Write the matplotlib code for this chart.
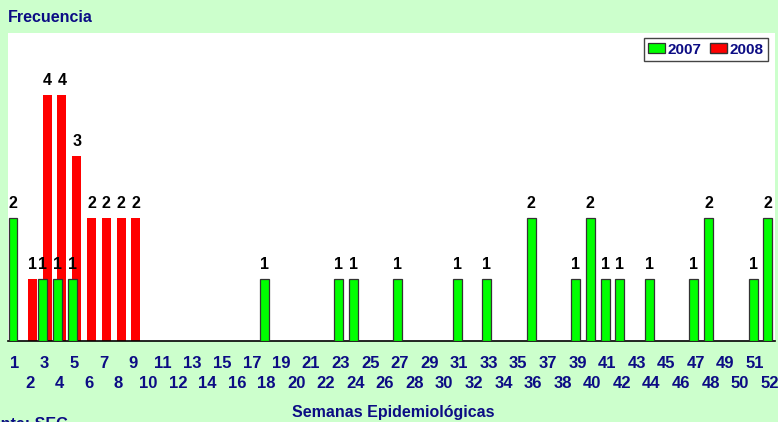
import matplotlib.pyplot as plt
import numpy as np

plt.rcParams['font.family'] = ['Liberation Sans', 'DejaVu Sans']

weeks = list(range(1, 53))
casos_2007 = {1: 2, 3: 1, 4: 1, 5: 1, 18: 1, 23: 1, 24: 1, 27: 1, 31: 1, 33: 1,
              36: 2, 39: 1, 40: 2, 41: 1, 42: 1, 44: 1, 47: 1, 48: 2, 51: 1, 52: 2}
casos_2008 = {2: 1, 3: 4, 4: 4, 5: 3, 6: 2, 7: 2, 8: 2, 9: 2}
odd_weeks = [w for w in weeks if w % 2]
even_weeks = [w for w in weeks if w % 2 == 0]

navy = '#0c0c84'
green = '#00ff00'
red = '#ff0000'

fig = plt.figure(figsize=(7.78, 4.22), dpi=100, facecolor='#ccffcc')
ax = fig.add_axes([8 / 778, 1 - 341 / 422, 767 / 778, 308 / 422])
ax.set_facecolor('white')

w = 0.6
x07 = np.array(list(casos_2007.keys())) - 0.13
y07 = np.array(list(casos_2007.values()))
x08 = np.array(list(casos_2008.keys())) + 0.17
y08 = np.array(list(casos_2008.values()))

b08 = ax.bar(x08, y08, width=w, color=red, edgecolor='none', zorder=2, label='2008')
b07 = ax.bar(x07, y07, width=w, color=green, edgecolor='#333333', linewidth=0.9,
             zorder=3, label='2007')

lab_font = dict(fontsize=11.5, fontweight='bold', color='black')
ax.bar_label(b08, padding=5, **lab_font)
ax.bar_label(b07, padding=5, **lab_font)

ax.set_xlim(0.53, 52.35)
ax.set_ylim(0, 5)
ax.set_yticks([])
# odd weeks on the first row, even weeks on the second row
ax.set_xticks(odd_weeks)
ax.set_xticklabels([str(v) for v in odd_weeks], fontsize=12, fontweight='bold',
                   color=navy)
ax.set_xticks(even_weeks, minor=True)
ax.set_xticklabels([str(v) for v in even_weeks], minor=True, fontsize=12,
                   fontweight='bold', color=navy)
ax.tick_params(axis='x', which='major', length=0, pad=11)
ax.tick_params(axis='x', which='minor', length=0, pad=25)
for s in ['top', 'left', 'right']:
    ax.spines[s].set_visible(False)
ax.spines['bottom'].set_color('black')
ax.spines['bottom'].set_linewidth(1.2)

leg = fig.legend(handles=[b07, b08], labels=['2007', '2008'],
                 loc='upper right', bbox_to_anchor=(768 / 778, 1 - 38 / 422),
                 borderaxespad=0, frameon=True, fancybox=False,
                 edgecolor='#444444', framealpha=1, handlelength=1.1,
                 handleheight=0.6, handletextpad=0.15, columnspacing=0.6,
                 borderpad=0.3, ncol=2, prop=dict(weight='bold', size=11))
for t in leg.get_texts():
    t.set_color(navy)
leg.legend_handles[0].set_edgecolor('#333333')
leg.legend_handles[1].set_edgecolor('#333333')

fig.text(8 / 778, 1 - 17 / 422, 'Frecuencia', fontsize=11.5, fontweight='bold',
         color=navy, ha='left', va='center')
fig.text(393 / 778, 1 - 412 / 422, 'Semanas Epidemiológicas', fontsize=11.5,
         fontweight='bold', color=navy, ha='center', va='center')
fig.text(-28 / 778, 1 - 417 / 422, 'Fuente: SEG', fontsize=11.5,
         fontweight='bold', color=navy, ha='left', va='top')

fig.savefig('out.png', dpi=100, facecolor=fig.get_facecolor())
